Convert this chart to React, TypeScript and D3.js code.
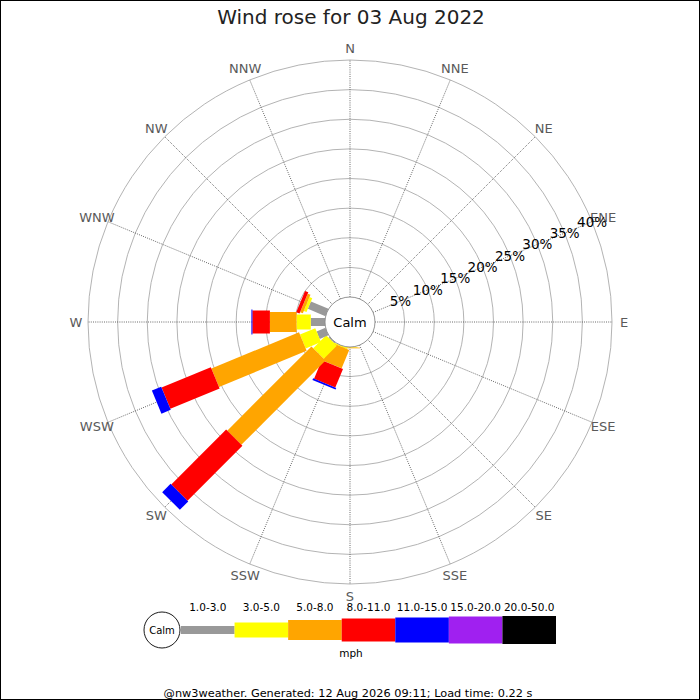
import React from 'react';
import * as d3 from 'd3';

const directions = ['N', 'NNE', 'NE', 'ENE', 'E', 'ESE', 'SE', 'SSE', 'S', 'SSW', 'SW', 'WSW', 'W', 'WNW', 'NW', 'NNW'];
const speedBins = ['1.0-3.0', '3.0-5.0', '5.0-8.0', '8.0-11.0', '11.0-15.0', '15.0-20.0', '20.0-50.0'];
const binColors = ['#999999', '#ffff00', '#ffa500', '#ff0000', '#0000ff', '#a020f0', '#000000'];
const ringTicks = [5, 10, 15, 20, 25, 30, 35, 40];

// % of the day from each direction, split by speed bin (mph)
const freqS = [0, 0.1, 0.12, 0, 0, 0, 0];
const freqSSW = [0, 0.2, 3.35, 3.4, 0.3, 0, 0];
const freqSW = [0.2, 3.1, 20.1, 13.1, 2.0, 0, 0];
const freqWSW = [1.6, 2.8, 16.0, 9.0, 1.7, 0, 0];
const freqW = [2.4, 2.4, 4.5, 2.95, 0.17, 0, 0];
const freqWNW = [3.2, 0.5, 0.5, 0.6, 0, 0, 0];

const rose: Record<string, number[]> = {
  S: freqS,
  SSW: freqSSW,
  SW: freqSW,
  WSW: freqWSW,
  W: freqW,
  WNW: freqWNW,
};

const W = 700;
const H = 700;
const cx = 350;
const cy = 322;
const calmR = 25;
const outerR = 262;
const barWidths = [8, 15, 20, 23, 25, 27, 28];
const font = 'DejaVu Sans, Verdana, sans-serif';

const App: React.FC = () => {
  const r = d3.scaleLinear().domain([0, 40]).range([calmR, outerR]);
  const ang = d3.scaleLinear().domain([0, directions.length]).range([0, 360]);
  const pt = (deg: number, rad: number): [number, number] => {
    const a = (deg * Math.PI) / 180;
    return [cx + rad * Math.sin(a), cy - rad * Math.cos(a)];
  };

  const legendX = d3.scaleBand<string>().domain(speedBins).range([181, 556]);
  const legendY = 630;

  return (
    <svg width={W} height={H} style={{ position: 'absolute', left: 0, top: 0, background: '#fff' }} fontFamily={font}>
      <rect x={0.5} y={0.5} width={W - 1} height={H - 1} fill="#fff" stroke="#000" />

      <text x={351} y={17} textAnchor="middle" dominantBaseline="central" fontSize={20} fill="#222">
        Wind rose for 03 Aug 2022
      </text>

      {/* rings */}
      {ringTicks.map((t) => (
        <circle key={t} cx={cx} cy={cy} r={r(t)} fill="none" stroke="#aaa" strokeWidth={0.9} />
      ))}

      {/* spokes */}
      {directions.map((d, i) => {
        const [x1, y1] = pt(ang(i), calmR);
        const [x2, y2] = pt(ang(i), outerR);
        return <line key={d} x1={x1} y1={y1} x2={x2} y2={y2} stroke="#444" strokeWidth={0.8} strokeDasharray="1,1.2" />;
      })}

      {/* direction labels */}
      {directions.map((d, i) => {
        const [x, y] = pt(ang(i), 274);
        return (
          <text key={d} x={x} y={y} textAnchor="middle" dominantBaseline="central" fontSize={13} fill="#5a5a5a">
            {d}
          </text>
        );
      })}

      {/* bars */}
      {directions.map((d, i) => {
        const vals = rose[d];
        if (!vals) return null;
        const cum = Array.from(d3.cumsum(vals));
        return (
          <g key={d} transform={`translate(${cx},${cy}) rotate(${ang(i) - 90})`}>
            {vals.map((v, b) => {
              if (v <= 0) return null;
              const r0 = r(cum[b] - v);
              const r1 = r(cum[b]);
              return (
                <rect key={b} x={r0} y={-barWidths[b] / 2} width={r1 - r0} height={barWidths[b]} fill={binColors[b]} />
              );
            })}
          </g>
        );
      })}

      <circle cx={cx} cy={cy} r={calmR} fill="#fff" stroke="#888" strokeWidth={0.9} />
      <text x={cx} y={cy} textAnchor="middle" dominantBaseline="central" fontSize={13} fill="#000">
        Calm
      </text>

      {/* ring labels */}
      {ringTicks.map((t) => {
        const [x, y] = pt(67.5, r(t));
        return (
          <text key={t} x={x} y={y} textAnchor="middle" dominantBaseline="central" fontSize={13.5} fill="#000">
            {t}%
          </text>
        );
      })}

      {/* legend */}
      <circle cx={162} cy={legendY} r={18} fill="#fff" stroke="#000" strokeWidth={0.9} />
      <text x={162} y={legendY} textAnchor="middle" dominantBaseline="central" fontSize={10} fill="#000">
        Calm
      </text>
      {speedBins.map((s, b) => (
        <g key={s}>
          <rect
            x={legendX(s)}
            y={legendY - barWidths[b] / 2}
            width={legendX.bandwidth()}
            height={barWidths[b]}
            fill={binColors[b]}
          />
          <text
            x={(legendX(s) || 0) + legendX.bandwidth() / 2}
            y={607}
            textAnchor="middle"
            dominantBaseline="central"
            fontSize={10.5}
            fill="#000"
          >
            {s}
          </text>
        </g>
      ))}
      <text x={351} y={653} textAnchor="middle" dominantBaseline="central" fontSize={10.5} fill="#000">
        mph
      </text>

      <text x={348} y={693} textAnchor="middle" dominantBaseline="central" fontSize={11.3} fill="#000">
        @nw3weather. Generated: 12 Aug 2026 09:11; Load time: 0.22 s
      </text>
    </svg>
  );
};

export default App;
